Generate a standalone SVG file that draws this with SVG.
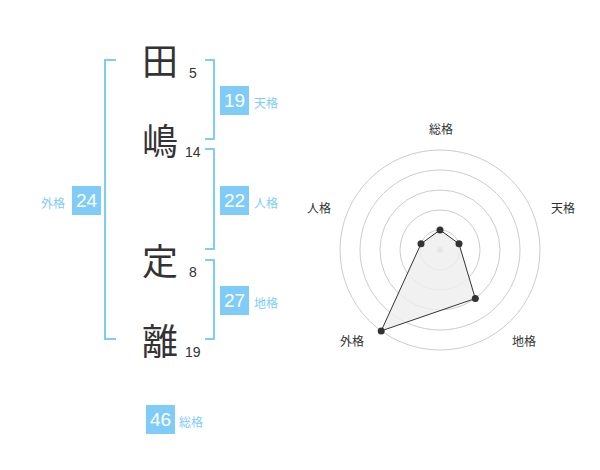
<svg xmlns="http://www.w3.org/2000/svg" width="600" height="470" viewBox="0 0 600 470">
<style>
.ch{font-family:"Noto Sans CJK JP","Noto Sans CJK SC",sans-serif;font-size:36px;fill:#333;text-anchor:middle}
.num{font-family:"Liberation Sans",Arial,sans-serif;font-size:14px;fill:#333}
.box{fill:#80ccf8}
.bn{font-family:"Liberation Sans",Arial,sans-serif;font-size:19px;fill:#fff;text-anchor:middle}
.lb{font-family:"Noto Sans CJK JP",sans-serif;font-size:12px;fill:#80ccf8}
.br{fill:none;stroke:#80ccf8;stroke-width:2}
.ring{fill:none;stroke:#ccc;stroke-width:1}
.rl{font-family:"Noto Sans CJK JP",sans-serif;font-size:12px;fill:#333;text-anchor:middle}
</style>
<rect width="600" height="470" fill="#fff"/>
<g id="connectors">
<path class="br" d="M116,60 H105 V339 H116"/>
<path class="br" d="M205,60 H214 V139 H205"/>
<path class="br" d="M205,149 H214 V249 H205"/>
<path class="br" d="M205,260 H214 V339 H205"/>
</g>
<g id="char1"><text class="ch" x="160" y="75">田</text><text class="num" x="189" y="78">5</text></g>
<g id="char2"><text class="ch" x="160" y="155">嶋</text><text class="num" x="185" y="157">14</text></g>
<g id="char3"><text class="ch" x="160" y="275">定</text><text class="num" x="189" y="277">8</text></g>
<g id="char4"><text class="ch" x="160" y="355">離</text><text class="num" x="185" y="357">19</text></g>
<g id="tenkaku"><rect class="box" x="220" y="86" width="29" height="29"/><text class="bn" x="234.5" y="107">19</text><text class="lb" x="254" y="108">天格</text></g>
<g id="jinkaku"><rect class="box" x="220" y="186" width="29" height="29"/><text class="bn" x="234.5" y="207">22</text><text class="lb" x="254" y="208">人格</text></g>
<g id="chikaku"><rect class="box" x="220" y="286" width="29" height="29"/><text class="bn" x="234.5" y="307">27</text><text class="lb" x="254" y="308">地格</text></g>
<g id="gaikaku"><rect class="box" x="72" y="186" width="29" height="29"/><text class="bn" x="86.5" y="207">24</text><text class="lb" x="41" y="208">外格</text></g>
<g id="soukaku"><rect class="box" x="146" y="405" width="29" height="29"/><text class="bn" x="160.5" y="426">46</text><text class="lb" x="179" y="427">総格</text></g>
<g id="radar">
<circle class="ring" cx="440" cy="250" r="20"/>
<circle class="ring" cx="440" cy="250" r="40"/>
<circle class="ring" cx="440" cy="250" r="60"/>
<circle class="ring" cx="440" cy="250" r="80"/>
<circle class="ring" cx="440" cy="250" r="100"/>
<circle cx="440" cy="250" r="3" fill="#ccc"/>
<polygon points="440,230 459,243.8 475.3,298.5 381.2,330.9 421,243.8" fill="#eee" fill-opacity="0.8" stroke="#333" stroke-width="1"/>
<circle cx="440" cy="230" r="3.5" fill="#333"/>
<circle cx="459" cy="243.8" r="3.5" fill="#333"/>
<circle cx="475.3" cy="298.5" r="3.5" fill="#333"/>
<circle cx="381.2" cy="330.9" r="3.5" fill="#333"/>
<circle cx="421" cy="243.8" r="3.5" fill="#333"/>
<text class="rl" x="441" y="134">総格</text>
<text class="rl" x="563" y="213">天格</text>
<text class="rl" x="319" y="213">人格</text>
<text class="rl" x="352" y="346">外格</text>
<text class="rl" x="524" y="346">地格</text>
</g>
</svg>
